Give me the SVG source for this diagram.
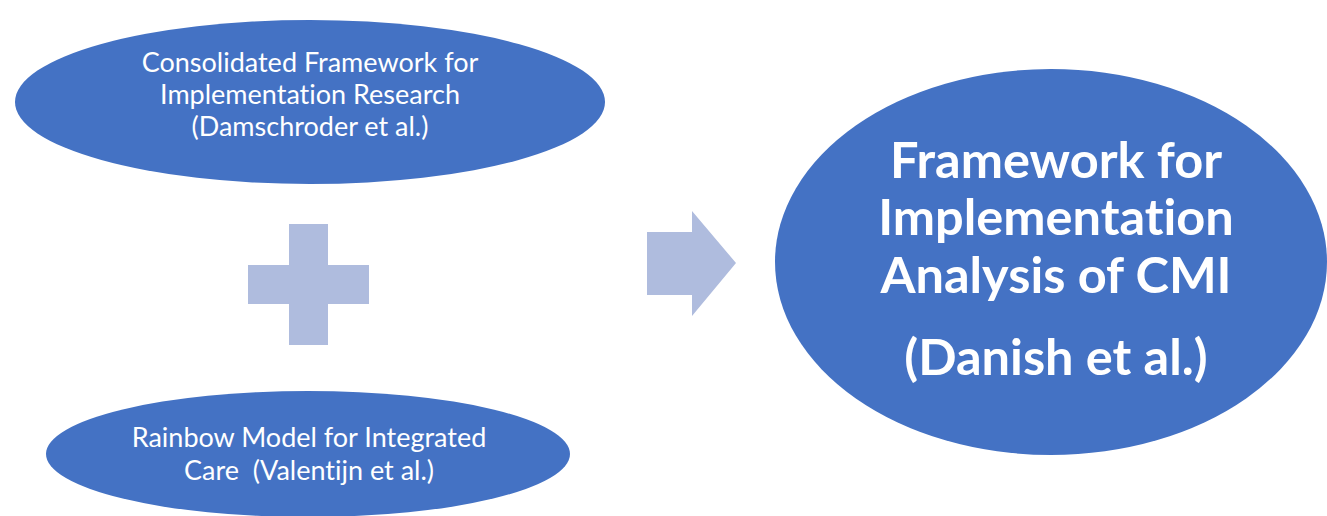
<svg xmlns="http://www.w3.org/2000/svg" width="1327" height="516" viewBox="0 0 1327 516">
<style>
.node{fill:#4472C4;}
.sym{fill:#AFBCDE;}
.t{fill:#fff;font-family:Lato,"Open Sans","Liberation Sans",sans-serif;text-anchor:middle;font-variant-ligatures:none;}
.s{font-size:27px;}
.b{font-size:50.5px;font-weight:bold;}
</style>
<rect width="1327" height="516" fill="#fff"/>
<g id="cfir">
<ellipse class="node" cx="310" cy="102" rx="295" ry="82"/>
<text class="t s" x="310" y="72">Consolidated Framework for</text>
<text class="t s" x="310" y="104">Implementation Research</text>
<text class="t s" x="310" y="136">(Damschroder et al.)</text>
</g>
<g id="rainbow">
<ellipse class="node" cx="308" cy="454" rx="262" ry="63"/>
<text class="t s" x="309" y="447">Rainbow Model for Integrated</text>
<text class="t s" x="309" y="480" xml:space="preserve">Care  (Valentijn et al.)</text>
</g>
<g id="plus">
<path class="sym" d="M289 224H328V265H369V304H328V345H289V304H248V265H289Z"/>
</g>
<g id="connectors">
<path class="sym" d="M647 232H692V211L736 263L692 316V295H647Z"/>
</g>
<g id="danish">
<ellipse class="node" cx="1051" cy="262" rx="276" ry="193"/>
<text class="t b" x="1056" y="178">Framework for</text>
<text class="t b" x="1056" y="235">Implementation</text>
<text class="t b" x="1056" y="293">Analysis of CMI</text>
<text class="t b" x="1056" y="375">(Danish et al.)</text>
</g>
</svg>
